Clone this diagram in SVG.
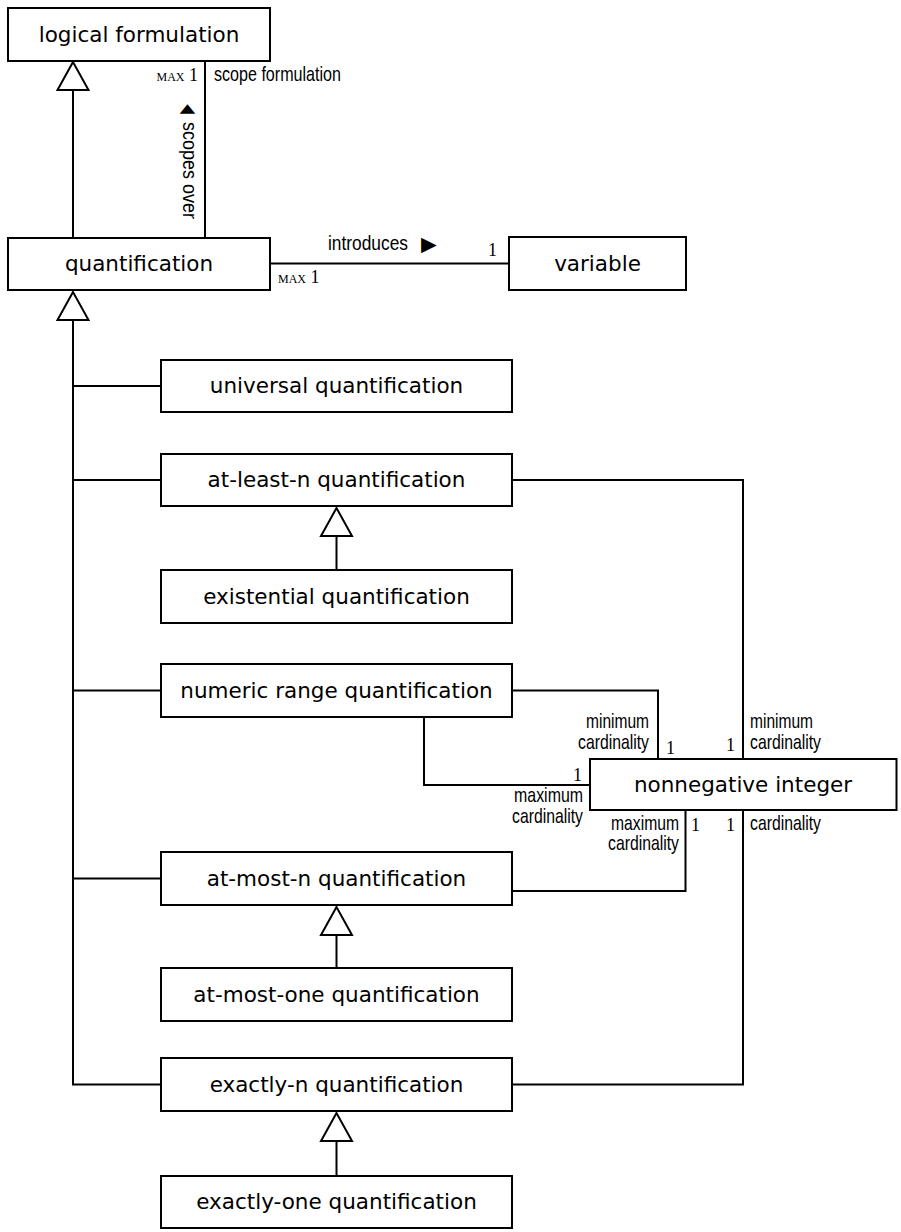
<svg xmlns="http://www.w3.org/2000/svg" width="901" height="1232" viewBox="0 0 901 1232">
<style>
.box{fill:#fff;stroke:#000;stroke-width:2}
.lbl{font-family:"DejaVu Sans","Verdana",sans-serif;font-size:21.5px;text-anchor:middle;fill:#000}
.ln{fill:none;stroke:#000;stroke-width:2}
.tri{fill:#fff;stroke:#000;stroke-width:2;stroke-linejoin:miter}
.role{font-family:"Liberation Sans",Arial,sans-serif;font-size:20px;fill:#000}
.arr{font-family:"Liberation Sans",Arial,sans-serif;font-size:26px;fill:#000}
.mult{font-family:"Liberation Serif","Times New Roman",serif;font-size:18px;fill:#000}
.sc{font-size:12px}
.end{text-anchor:end}
</style>
<rect width="901" height="1232" fill="#fff"/>
<g id="connectors">
<line class="ln" x1="73" y1="90" x2="73" y2="238"/>
<polygon class="tri" points="73,62 57.5,90 88.5,90"/>
<line class="ln" x1="205" y1="61" x2="205" y2="238"/>
<line class="ln" x1="270" y1="263.5" x2="509" y2="263.5"/>
<polyline class="ln" points="73,320 73,1084.5 161,1084.5"/>
<polygon class="tri" points="73,292 57.5,320 88.5,320"/>
<line class="ln" x1="73" y1="386" x2="161" y2="386"/>
<line class="ln" x1="73" y1="480" x2="161" y2="480"/>
<line class="ln" x1="73" y1="690.5" x2="161" y2="690.5"/>
<line class="ln" x1="73" y1="878.5" x2="161" y2="878.5"/>
<line class="ln" x1="336.5" y1="536" x2="336.5" y2="570"/>
<polygon class="tri" points="336.5,508 321,536 352,536"/>
<line class="ln" x1="336.5" y1="935" x2="336.5" y2="968"/>
<polygon class="tri" points="336.5,907 321,935 352,935"/>
<line class="ln" x1="336.5" y1="1141" x2="336.5" y2="1176"/>
<polygon class="tri" points="336.5,1113 321,1141 352,1141"/>
<polyline class="ln" points="512,480 743,480 743,759"/>
<polyline class="ln" points="512,690.5 658,690.5 658,759"/>
<polyline class="ln" points="424,717 424,785 590,785"/>
<polyline class="ln" points="512,891 685.5,891 685.5,810"/>
<polyline class="ln" points="512,1084.5 743,1084.5 743,810"/>
<text class="role" transform="translate(214,81) scale(0.805,1)">scope formulation</text>
<text class="mult" x="198" y="81" text-anchor="end"><tspan class="sc">MAX</tspan> 1</text>
<text class="arr" transform="translate(180,101) rotate(90) scale(0.62,1)">◄</text>
<text class="role" transform="translate(183,122) rotate(90) scale(0.9,1)">scopes over</text>
<text class="role" transform="translate(328,250) scale(0.867,1)">introduces</text>
<text class="arr" x="416" y="253">►</text>
<text class="mult" x="278" y="283"><tspan class="sc">MAX</tspan> 1</text>
<text class="mult" x="488" y="256">1</text>
<text class="role end" transform="translate(649,728) scale(0.777,1)">minimum</text>
<text class="role end" transform="translate(649,749) scale(0.789,1)">cardinality</text>
<text class="mult" x="666" y="754">1</text>
<text class="mult" x="726" y="751">1</text>
<text class="role" transform="translate(750,728) scale(0.777,1)">minimum</text>
<text class="role" transform="translate(750,749) scale(0.789,1)">cardinality</text>
<text class="mult" x="573" y="781">1</text>
<text class="role end" transform="translate(583,802) scale(0.796,1)">maximum</text>
<text class="role end" transform="translate(583,823) scale(0.789,1)">cardinality</text>
<text class="role end" transform="translate(679,830) scale(0.785,1)">maximum</text>
<text class="role end" transform="translate(679,850) scale(0.789,1)">cardinality</text>
<text class="mult" x="691" y="831">1</text>
<text class="mult" x="726" y="831">1</text>
<text class="role" transform="translate(750,830) scale(0.789,1)">cardinality</text>
</g>
<g id="logical-formulation"><rect class="box" x="8" y="8" width="262" height="53"/><text class="lbl" x="139" y="42">logical formulation</text></g>
<g id="quantification"><rect class="box" x="8" y="238" width="262" height="52"/><text class="lbl" x="139" y="271">quantification</text></g>
<g id="variable"><rect class="box" x="509" y="237" width="177" height="53"/><text class="lbl" x="597.5" y="270.5">variable</text></g>
<g id="universal-quantification"><rect class="box" x="161" y="360" width="351" height="52"/><text class="lbl" x="336.5" y="393">universal quantification</text></g>
<g id="at-least-n-quantification"><rect class="box" x="161" y="454" width="351" height="52"/><text class="lbl" x="336.5" y="487">at-least-n quantification</text></g>
<g id="existential-quantification"><rect class="box" x="161" y="570" width="351" height="53"/><text class="lbl" x="336.5" y="603.5">existential quantification</text></g>
<g id="numeric-range-quantification"><rect class="box" x="161" y="664" width="351" height="53"/><text class="lbl" x="336.5" y="697.5">numeric range quantification</text></g>
<g id="nonnegative-integer"><rect class="box" x="590" y="759" width="306.5" height="51"/><text class="lbl" x="743" y="791.5">nonnegative integer</text></g>
<g id="at-most-n-quantification"><rect class="box" x="161" y="852" width="351" height="53"/><text class="lbl" x="336.5" y="885.5">at-most-n quantification</text></g>
<g id="at-most-one-quantification"><rect class="box" x="161" y="968" width="351" height="53"/><text class="lbl" x="336.5" y="1001.5">at-most-one quantification</text></g>
<g id="exactly-n-quantification"><rect class="box" x="161" y="1058" width="351" height="53"/><text class="lbl" x="336.5" y="1091.5">exactly-n quantification</text></g>
<g id="exactly-one-quantification"><rect class="box" x="161" y="1176" width="351" height="52"/><text class="lbl" x="336.5" y="1209">exactly-one quantification</text></g>
</svg>
